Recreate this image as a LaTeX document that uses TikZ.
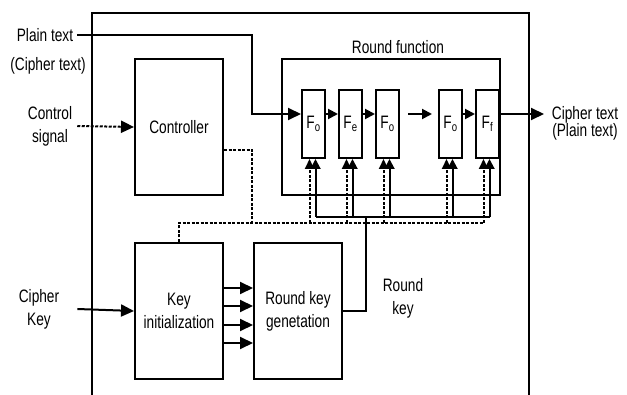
\documentclass[tikz,border=0pt]{standalone}
\usepackage{fontspec}
\setmainfont{Liberation Sans}[FakeStretch=0.76]
\usetikzlibrary{arrows.meta,positioning}
\tikzset{
	block/.style={draw, line width=2pt, minimum width=88pt, minimum height=136pt, align=center, inner sep=2pt, font=\fontsize{18}{23}\selectfont},
	fstage/.style={draw, line width=2pt, minimum width=23pt, minimum height=68pt, inner sep=0pt, font=\fontsize{18}{20}\selectfont},
	rfbox/.style={draw, line width=2pt, minimum width=218pt, minimum height=136pt},
	lbl/.style={align=center, inner sep=0pt, font=\fontsize{18}{23}\selectfont},
	wire/.style={line width=2pt},
	flow/.style={-{Triangle[length=13pt,width=12pt]}, line width=2pt},
	tick/.style={-{Triangle[length=10pt,width=10pt]}, line width=2pt},
	ctl/.style={line width=2pt, dash pattern=on 3pt off 1.5pt},
	ctlflow/.style={ctl, -{Triangle[length=13pt,width=12pt]}},
	ctltick/.style={ctl, -{Triangle[length=10pt,width=9pt]}}
}
\begin{document}
\begin{tikzpicture}[x=1pt, y=-1pt]
	\useasboundingbox (0,0) rectangle (627,395);
	% outer frame, open at the bottom
	\draw[wire] (92,395) -- (92,13) -- (529,13) -- (529,395);

	\node[block] (ctrl) at (179,127) {Controller};
	\node[block, below=46pt of ctrl] (kinit) {Key\\initialization};
	\node[block, right=29pt of kinit] (rkgen) {Round key\\genetation};

	\node[rfbox] (rf) at (391,127) {};
	\node[lbl] (rflbl) at (398,47) {Round function};
	\node[fstage] (f1) at (313.5,124) {F\textsubscript{o}};
	\node[fstage, right=12pt of f1] (f2) {F\textsubscript{e}};
	\node[fstage, right=12pt of f2] (f3) {F\textsubscript{o}};
	\node[fstage, right=38pt of f3] (f4) {F\textsubscript{o}};
	\node[fstage, right=12pt of f4] (f5) {F\textsubscript{f}};

	\node[lbl] (plain) at (45,35) {Plain text};
	\node[lbl] (cipher) at (48,66) {(Cipher text)};
	\node[lbl] (csig) at (50,126) {Control\\signal};
	\node[lbl] (ckey) at (39,309) {Cipher\\Key};
	\node[lbl, font=\fontsize{18}{17}\selectfont] (cout) at (585,123) {Cipher text\\(Plain text)};
	\node[lbl] (rklbl) at (403,298) {Round\\key};

	\coordinate (pbend) at (252,35);
	\coordinate (pout) at (544,114);
	\coordinate (rkjoin) at (366,217);
	\coordinate (cbend) at (252,223);

	% data path
	\draw[flow] ([xshift=4pt]plain.east) -- (pbend) |- ([yshift=10pt]f1.west);
	\foreach \a/\b in {f1/f2,f2/f3,f4/f5}
		\draw[tick] ([yshift=10pt]\a.east) -- ([yshift=10pt]\b.west);
	\draw[tick] ([xshift=8pt,yshift=10pt]f3.east) -- ([xshift=-6pt,yshift=10pt]f4.west);
	\draw[flow] ([yshift=10pt]f5.east) -- (pout);

	% key path
	\draw[flow] ([xshift=18pt]ckey.east) -- (kinit.west);
	\foreach \dy in {23,5,-14,-32}
		\draw[flow] ([yshift=\dy pt]kinit.east) -- ([yshift=\dy pt]rkgen.west);
	\draw[wire] (rkgen.east) -| (rkjoin);
	\foreach \stg in {f1,f2,f3,f4,f5} {
		\coordinate (\stg-k) at ([xshift=2pt]\stg.south);
		\coordinate (\stg-c) at ([xshift=-4pt]\stg.south);
	}
	\draw[wire] (f1-k |- rkjoin) -- (f5-k |- rkjoin);
	\foreach \stg in {f1,f2,f3,f4,f5}
		\draw[tick] (\stg-k |- rkjoin) -- (\stg-k);

	% control path
	\draw[ctlflow] ([xshift=5pt]csig.east) -- (ctrl.west);
	\draw[ctl] ([yshift=-23pt]ctrl.east) -| (cbend);
	\draw[ctl] (kinit.north) |- (f5-c |- cbend);
	\foreach \stg in {f1,f2,f3,f4,f5}
		\draw[ctltick] (\stg-c |- cbend) -- (\stg-c);
\end{tikzpicture}
\end{document}
